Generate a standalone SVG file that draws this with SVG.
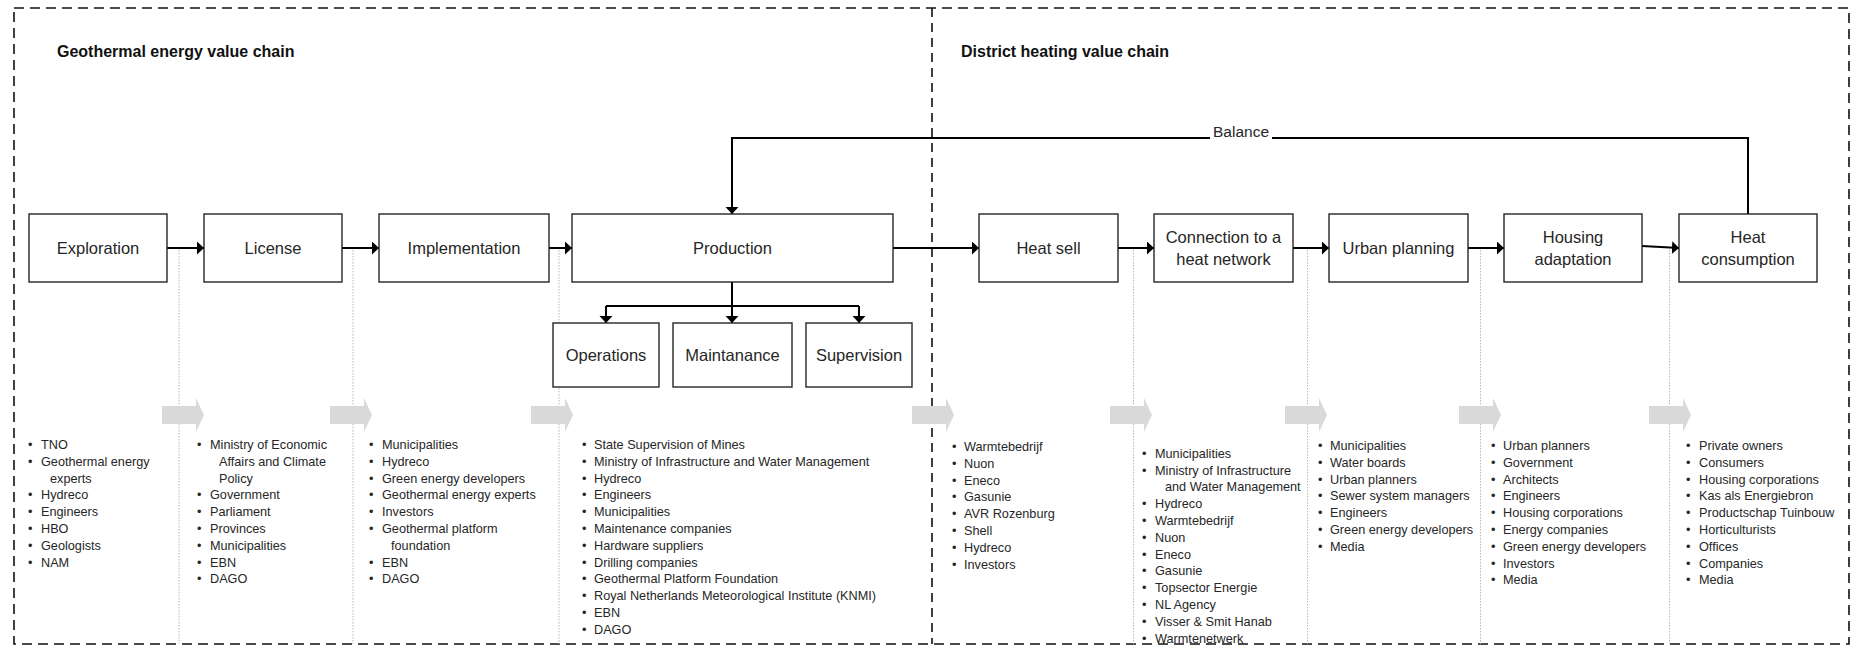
<svg xmlns="http://www.w3.org/2000/svg" width="1852" height="646" viewBox="0 0 1852 646">
<style>
.bg{fill:#fff}
.frame{fill:none;stroke:#111;stroke-width:1.6;stroke-dasharray:10 6}
.divider{fill:none;stroke:#111;stroke-width:1.6;stroke-dasharray:9 6}
.title{font-family:"Liberation Sans",Arial,sans-serif;font-weight:bold;font-size:16px;fill:#111}
.box{fill:#fff;stroke:#262626;stroke-width:1.4}
.lbl{font-family:"Liberation Sans",Arial,sans-serif;font-size:16.5px;fill:#262626;text-anchor:middle}
.conn{fill:none;stroke:#000;stroke-width:2}
.guide{fill:none;stroke:#b8b8b8;stroke-width:1;stroke-dasharray:1.5 1.5}
.flow{fill:#d9d9d9}
.list{font-family:"Liberation Sans",Arial,sans-serif;font-size:12.7px;fill:#262626}
.bal{font-family:"Liberation Sans",Arial,sans-serif;font-size:15.5px;fill:#262626;text-anchor:middle}
</style>
<defs>
<marker id="ah" markerWidth="8" markerHeight="14" refX="7" refY="6.5" orient="auto" markerUnits="userSpaceOnUse"><path d="M0,0 L7,6.5 L0,13 z" fill="#000"/></marker>
</defs>
<rect class="bg" x="0" y="0" width="1852" height="646"/>
<rect class="frame" x="14" y="8" width="1835" height="636"/>
<line class="divider" x1="932" y1="8" x2="932" y2="644"/>
<text class="title" x="57" y="57">Geothermal energy value chain</text>
<text class="title" x="961" y="57">District heating value chain</text>

<g id="guides">
<path class="guide" d="M179,250 V644 M353,250 V644 M559,250 V644 M1133.5,250 V644 M1307.5,250 V644 M1480.5,250 V644 M1669.5,250 V644"/>
</g>

<g id="flow-arrows">
<polygon class="flow" points="162,406 196,406 196,398 204,415 196,432 196,424 162,424"/>
<polygon class="flow" points="330,406 364,406 364,398 372,415 364,432 364,424 330,424"/>
<polygon class="flow" points="531,406 565,406 565,398 573,415 565,432 565,424 531,424"/>
<polygon class="flow" points="912,406 946,406 946,398 954,415 946,432 946,424 912,424"/>
<polygon class="flow" points="1110,406 1144,406 1144,398 1152,415 1144,432 1144,424 1110,424"/>
<polygon class="flow" points="1285,406 1319,406 1319,398 1327,415 1319,432 1319,424 1285,424"/>
<polygon class="flow" points="1459,406 1493,406 1493,398 1501,415 1493,432 1493,424 1459,424"/>
<polygon class="flow" points="1649,406 1683,406 1683,398 1691,415 1683,432 1683,424 1649,424"/>
</g>

<g id="connectors">
<path class="conn" d="M167,248 H204" marker-end="url(#ah)"/>
<path class="conn" d="M342,248 H379" marker-end="url(#ah)"/>
<path class="conn" d="M549,248 H572" marker-end="url(#ah)"/>
<path class="conn" d="M893,248 H979" marker-end="url(#ah)"/>
<path class="conn" d="M1118,248 H1154" marker-end="url(#ah)"/>
<path class="conn" d="M1293,248 H1329" marker-end="url(#ah)"/>
<path class="conn" d="M1468,248 H1504" marker-end="url(#ah)"/>
<path class="conn" d="M1642,246 L1679,248" marker-end="url(#ah)"/>
<path class="conn" d="M1748,214 V138 H732 V214" marker-end="url(#ah)"/>
<rect x="1210" y="128" width="62" height="14" fill="#fff"/>
<text class="bal" x="1241" y="137">Balance</text>
<path class="conn" d="M732,282 V306 M606,306 H859"/>
<path class="conn" d="M606,306 V323" marker-end="url(#ah)"/>
<path class="conn" d="M732,306 V323" marker-end="url(#ah)"/>
<path class="conn" d="M859,306 V323" marker-end="url(#ah)"/>
</g>

<g id="exploration"><rect class="box" x="29" y="214" width="138" height="68"/><text class="lbl" x="98" y="254">Exploration</text></g>
<g id="license"><rect class="box" x="204" y="214" width="138" height="68"/><text class="lbl" x="273" y="254">License</text></g>
<g id="implementation"><rect class="box" x="379" y="214" width="170" height="68"/><text class="lbl" x="464" y="254">Implementation</text></g>
<g id="production"><rect class="box" x="572" y="214" width="321" height="68"/><text class="lbl" x="732.5" y="254">Production</text></g>
<g id="operations"><rect class="box" x="553" y="323" width="106" height="64"/><text class="lbl" x="606" y="361">Operations</text></g>
<g id="maintanance"><rect class="box" x="673" y="323" width="119" height="64"/><text class="lbl" x="732.5" y="361">Maintanance</text></g>
<g id="supervision"><rect class="box" x="806" y="323" width="106" height="64"/><text class="lbl" x="859" y="361">Supervision</text></g>
<g id="heat-sell"><rect class="box" x="979" y="214" width="139" height="68"/><text class="lbl" x="1048.5" y="254">Heat sell</text></g>
<g id="connection"><rect class="box" x="1154" y="214" width="139" height="68"/><text class="lbl" x="1223.5" y="243">Connection to a</text><text class="lbl" x="1223.5" y="265">heat network</text></g>
<g id="urban-planning"><rect class="box" x="1329" y="214" width="139" height="68"/><text class="lbl" x="1398.5" y="254">Urban planning</text></g>
<g id="housing-adaptation"><rect class="box" x="1504" y="214" width="138" height="68"/><text class="lbl" x="1573" y="243">Housing</text><text class="lbl" x="1573" y="265">adaptation</text></g>
<g id="heat-consumption"><rect class="box" x="1679" y="214" width="138" height="68"/><text class="lbl" x="1748" y="243">Heat</text><text class="lbl" x="1748" y="265">consumption</text></g>

<g id="list-exploration">
<text class="list"><tspan x="28" y="449">•</tspan><tspan x="41" y="449">TNO</tspan><tspan x="28" y="465.8">•</tspan><tspan x="41" y="465.8">Geothermal energy</tspan><tspan x="50" y="482.6">experts</tspan><tspan x="28" y="499.4">•</tspan><tspan x="41" y="499.4">Hydreco</tspan><tspan x="28" y="516.2">•</tspan><tspan x="41" y="516.2">Engineers</tspan><tspan x="28" y="533">•</tspan><tspan x="41" y="533">HBO</tspan><tspan x="28" y="549.8">•</tspan><tspan x="41" y="549.8">Geologists</tspan><tspan x="28" y="566.6">•</tspan><tspan x="41" y="566.6">NAM</tspan></text>
</g>
<g id="list-license">
<text class="list"><tspan x="197" y="449">•</tspan><tspan x="210" y="449">Ministry of Economic</tspan><tspan x="219" y="465.8">Affairs and Climate</tspan><tspan x="219" y="482.6">Policy</tspan><tspan x="197" y="499.4">•</tspan><tspan x="210" y="499.4">Government</tspan><tspan x="197" y="516.2">•</tspan><tspan x="210" y="516.2">Parliament</tspan><tspan x="197" y="533">•</tspan><tspan x="210" y="533">Provinces</tspan><tspan x="197" y="549.8">•</tspan><tspan x="210" y="549.8">Municipalities</tspan><tspan x="197" y="566.6">•</tspan><tspan x="210" y="566.6">EBN</tspan><tspan x="197" y="583.4">•</tspan><tspan x="210" y="583.4">DAGO</tspan></text>
</g>
<g id="list-implementation">
<text class="list"><tspan x="369" y="449">•</tspan><tspan x="382" y="449">Municipalities</tspan><tspan x="369" y="465.8">•</tspan><tspan x="382" y="465.8">Hydreco</tspan><tspan x="369" y="482.6">•</tspan><tspan x="382" y="482.6">Green energy developers</tspan><tspan x="369" y="499.4">•</tspan><tspan x="382" y="499.4">Geothermal energy experts</tspan><tspan x="369" y="516.2">•</tspan><tspan x="382" y="516.2">Investors</tspan><tspan x="369" y="533">•</tspan><tspan x="382" y="533">Geothermal platform</tspan><tspan x="391" y="549.8">foundation</tspan><tspan x="369" y="566.6">•</tspan><tspan x="382" y="566.6">EBN</tspan><tspan x="369" y="583.4">•</tspan><tspan x="382" y="583.4">DAGO</tspan></text>
</g>
<g id="list-production">
<text class="list"><tspan x="582" y="449">•</tspan><tspan x="594" y="449">State Supervision of Mines</tspan><tspan x="582" y="465.8">•</tspan><tspan x="594" y="465.8">Ministry of Infrastructure and Water Management</tspan><tspan x="582" y="482.6">•</tspan><tspan x="594" y="482.6">Hydreco</tspan><tspan x="582" y="499.4">•</tspan><tspan x="594" y="499.4">Engineers</tspan><tspan x="582" y="516.2">•</tspan><tspan x="594" y="516.2">Municipalities</tspan><tspan x="582" y="533">•</tspan><tspan x="594" y="533">Maintenance companies</tspan><tspan x="582" y="549.8">•</tspan><tspan x="594" y="549.8">Hardware suppliers</tspan><tspan x="582" y="566.6">•</tspan><tspan x="594" y="566.6">Drilling companies</tspan><tspan x="582" y="583.4">•</tspan><tspan x="594" y="583.4">Geothermal Platform Foundation</tspan><tspan x="582" y="600.2">•</tspan><tspan x="594" y="600.2">Royal Netherlands Meteorological Institute (KNMI)</tspan><tspan x="582" y="617">•</tspan><tspan x="594" y="617">EBN</tspan><tspan x="582" y="633.8">•</tspan><tspan x="594" y="633.8">DAGO</tspan></text>
</g>
<g id="list-heat-sell">
<text class="list"><tspan x="952" y="451">•</tspan><tspan x="964" y="451">Warmtebedrijf</tspan><tspan x="952" y="467.8">•</tspan><tspan x="964" y="467.8">Nuon</tspan><tspan x="952" y="484.6">•</tspan><tspan x="964" y="484.6">Eneco</tspan><tspan x="952" y="501.4">•</tspan><tspan x="964" y="501.4">Gasunie</tspan><tspan x="952" y="518.2">•</tspan><tspan x="964" y="518.2">AVR Rozenburg</tspan><tspan x="952" y="535">•</tspan><tspan x="964" y="535">Shell</tspan><tspan x="952" y="551.8">•</tspan><tspan x="964" y="551.8">Hydreco</tspan><tspan x="952" y="568.6">•</tspan><tspan x="964" y="568.6">Investors</tspan></text>
</g>
<g id="list-connection">
<text class="list"><tspan x="1142" y="457.7">•</tspan><tspan x="1155" y="457.7">Municipalities</tspan><tspan x="1142" y="474.5">•</tspan><tspan x="1155" y="474.5">Ministry of Infrastructure</tspan><tspan x="1165" y="491.3">and Water Management</tspan><tspan x="1142" y="508.1">•</tspan><tspan x="1155" y="508.1">Hydreco</tspan><tspan x="1142" y="524.9">•</tspan><tspan x="1155" y="524.9">Warmtebedrijf</tspan><tspan x="1142" y="541.7">•</tspan><tspan x="1155" y="541.7">Nuon</tspan><tspan x="1142" y="558.5">•</tspan><tspan x="1155" y="558.5">Eneco</tspan><tspan x="1142" y="575.3">•</tspan><tspan x="1155" y="575.3">Gasunie</tspan><tspan x="1142" y="592.1">•</tspan><tspan x="1155" y="592.1">Topsector Energie</tspan><tspan x="1142" y="608.9">•</tspan><tspan x="1155" y="608.9">NL Agency</tspan><tspan x="1142" y="625.7">•</tspan><tspan x="1155" y="625.7">Visser &amp; Smit Hanab</tspan><tspan x="1142" y="642.5">•</tspan><tspan x="1155" y="642.5">Warmtenetwerk</tspan></text>
</g>
<g id="list-urban-planning">
<text class="list"><tspan x="1318" y="450">•</tspan><tspan x="1330" y="450">Municipalities</tspan><tspan x="1318" y="466.8">•</tspan><tspan x="1330" y="466.8">Water boards</tspan><tspan x="1318" y="483.6">•</tspan><tspan x="1330" y="483.6">Urban planners</tspan><tspan x="1318" y="500.4">•</tspan><tspan x="1330" y="500.4">Sewer system managers</tspan><tspan x="1318" y="517.2">•</tspan><tspan x="1330" y="517.2">Engineers</tspan><tspan x="1318" y="534">•</tspan><tspan x="1330" y="534">Green energy developers</tspan><tspan x="1318" y="550.8">•</tspan><tspan x="1330" y="550.8">Media</tspan></text>
</g>
<g id="list-housing-adaptation">
<text class="list"><tspan x="1491" y="450">•</tspan><tspan x="1503" y="450">Urban planners</tspan><tspan x="1491" y="466.8">•</tspan><tspan x="1503" y="466.8">Government</tspan><tspan x="1491" y="483.6">•</tspan><tspan x="1503" y="483.6">Architects</tspan><tspan x="1491" y="500.4">•</tspan><tspan x="1503" y="500.4">Engineers</tspan><tspan x="1491" y="517.2">•</tspan><tspan x="1503" y="517.2">Housing corporations</tspan><tspan x="1491" y="534">•</tspan><tspan x="1503" y="534">Energy companies</tspan><tspan x="1491" y="550.8">•</tspan><tspan x="1503" y="550.8">Green energy developers</tspan><tspan x="1491" y="567.6">•</tspan><tspan x="1503" y="567.6">Investors</tspan><tspan x="1491" y="584.4">•</tspan><tspan x="1503" y="584.4">Media</tspan></text>
</g>
<g id="list-heat-consumption">
<text class="list"><tspan x="1686" y="450">•</tspan><tspan x="1699" y="450">Private owners</tspan><tspan x="1686" y="466.8">•</tspan><tspan x="1699" y="466.8">Consumers</tspan><tspan x="1686" y="483.6">•</tspan><tspan x="1699" y="483.6">Housing corporations</tspan><tspan x="1686" y="500.4">•</tspan><tspan x="1699" y="500.4">Kas als Energiebron</tspan><tspan x="1686" y="517.2">•</tspan><tspan x="1699" y="517.2">Productschap Tuinbouw</tspan><tspan x="1686" y="534">•</tspan><tspan x="1699" y="534">Horticulturists</tspan><tspan x="1686" y="550.8">•</tspan><tspan x="1699" y="550.8">Offices</tspan><tspan x="1686" y="567.6">•</tspan><tspan x="1699" y="567.6">Companies</tspan><tspan x="1686" y="584.4">•</tspan><tspan x="1699" y="584.4">Media</tspan></text>
</g>
</svg>
